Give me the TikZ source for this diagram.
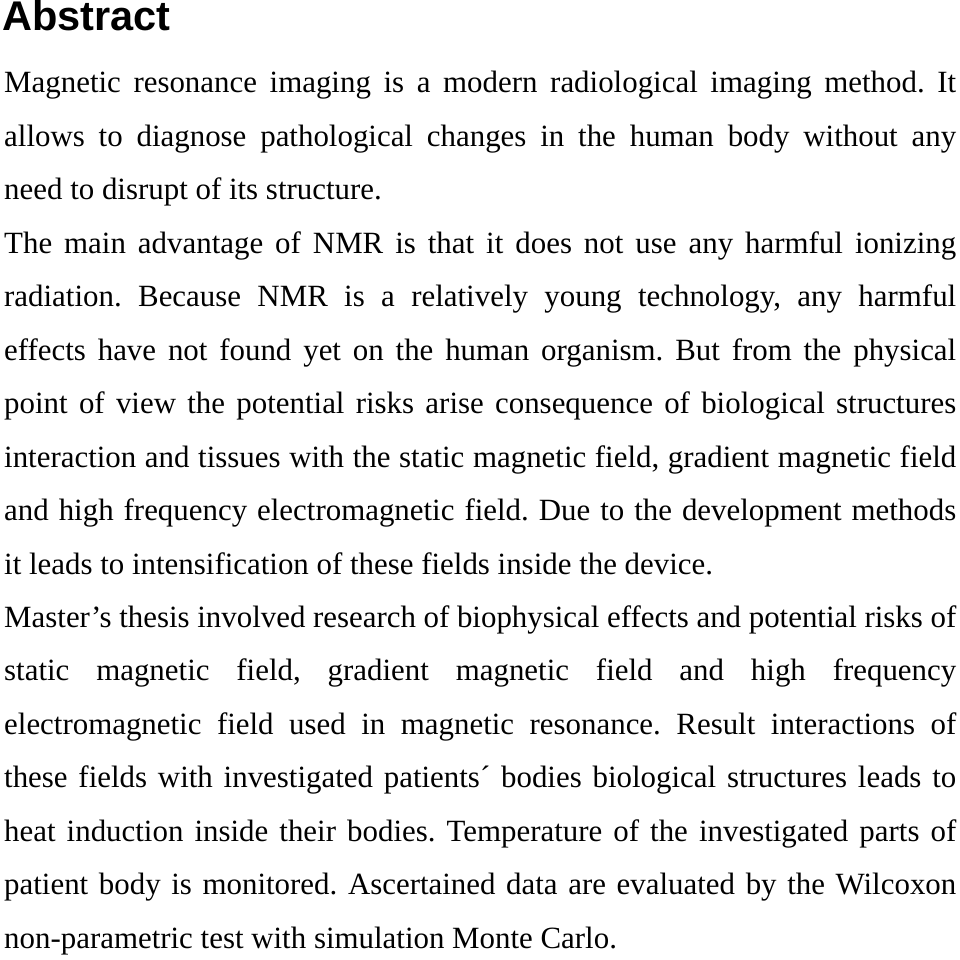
\documentclass[tikz,border=0pt]{standalone}
\usepackage{fontspec}
\setmainfont{Liberation Serif}
\newfontfamily\headfont{Liberation Sans}
\begin{document}
\begin{tikzpicture}[x=1pt,y=1pt]
\useasboundingbox[fill=white] (0,0) rectangle (960,-960);
\node[anchor=base west,inner sep=0pt,font=\headfont\bfseries\fontsize{41.5}{44}\selectfont] (h) at (2,-31) {Abstract};
\node[anchor=base west,inner sep=0pt,text width=952pt,align=justify,font=\fontsize{30.9}{53.45}\selectfont] (body) at (4,-93) {\frenchspacing\hyphenpenalty=10000\emergencystretch=30pt
Magnetic resonance imaging is a modern radiological imaging method. It\linebreak
allows to diagnose pathological changes in the human body without any\linebreak
need to disrupt of its structure.\par
The main advantage of NMR is that it does not use any harmful ionizing\linebreak
radiation. Because NMR is a relatively young technology, any harmful\linebreak
effects have not found yet on the human organism. But from the physical\linebreak
point of view the potential risks arise consequence of biological structures\linebreak
interaction and tissues with the static magnetic field, gradient magnetic field\linebreak
and high frequency electromagnetic field. Due to the development methods\linebreak
it leads to intensification of these fields inside the device.\par
Master\char"27 s thesis involved research of biophysical effects and potential risks of\linebreak
static magnetic field, gradient magnetic field and high frequency\linebreak
electromagnetic field used in magnetic resonance. Result interactions of\linebreak
these fields with investigated patients´ bodies biological structures leads to\linebreak
heat induction inside their bodies. Temperature of the investigated parts of\linebreak
patient body is monitored. Ascertained data are evaluated by the Wilcoxon\linebreak
non-parametric test with simulation Monte Carlo.\par};
\end{tikzpicture}
\end{document}
